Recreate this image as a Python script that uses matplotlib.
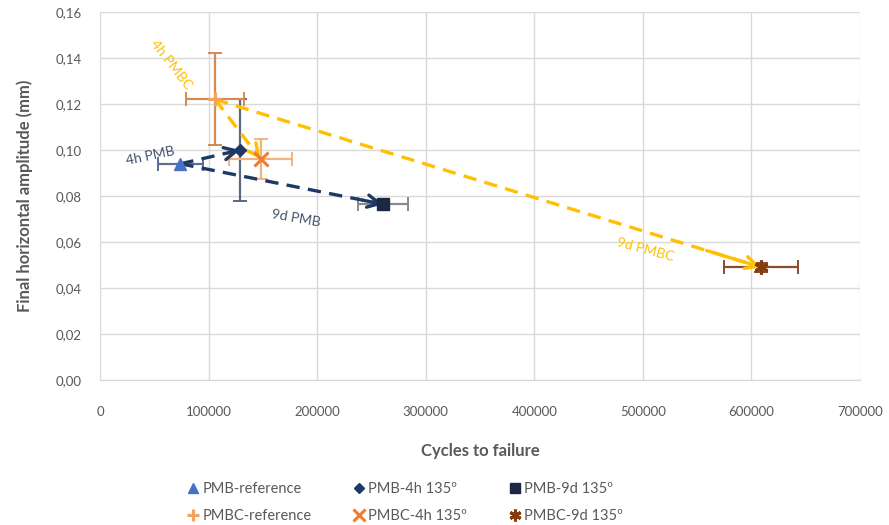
import numpy as np
import matplotlib
matplotlib.use("Agg")
import matplotlib.pyplot as plt
from matplotlib.lines import Line2D

plt.rcParams["font.family"] = ["Lato", "DejaVu Sans"]

# ── Data ──────────────────────────────────────────────────────────
labels   = ["PMB-reference", "PMB-4h 135º", "PMB-9d 135º",
            "PMBC-reference", "PMBC-4h 135º", "PMBC-9d 135º"]
cycles   = [74000, 129000, 261000, 106000, 148000, 609000]
ampl     = [0.094, 0.100, 0.0764, 0.122, 0.096, 0.049]
cyc_err  = [21000, 0, 23000, 27000, 29000, 34000]
amp_err  = [0.0, 0.022, 0.0, 0.020, 0.0087, 0.002]

markers  = ["^", "D", "s", "+", "x", (6, 2, 0)]
m_sizes  = [8, 6, 8, 10, 10, 10]
m_colors = ["#4472C4", "#1F3864", "#1C2743", "#F0A35E", "#ED7D31", "#843C0C"]
e_colors = ["#5A6E94", "#5A6A85", "#8A8A8A", "#D48A52", "#F2B27F", "#8B4A2A"]

# ageing arrows: (start index, end index, colour, text colour, text, text x, text y, rotation)
arrows = [
    (0, 1, "#1F3864", "#44546A", "4h PMB",  46000,  0.0972, 12),
    (0, 2, "#1F3864", "#44546A", "9d PMB",  181000, 0.0703, -10),
    (3, 4, "#FFC000", "#FFC000", "4h PMBC", 66000,  0.137, -52),
    (3, 5, "#FFC000", "#FFC000", "9d PMBC", 502000, 0.0568, -15),
]

fig = plt.figure(figsize=(8.89, 5.25), dpi=100)
ax = fig.add_axes([100/889, 1 - 380/525, 760/889, 368/525])

# error bars
for i in range(len(labels)):
    ax.errorbar(cycles[i], ampl[i],
                xerr=cyc_err[i] if cyc_err[i] else None,
                yerr=amp_err[i] if amp_err[i] else None,
                fmt="none", ecolor=e_colors[i], elinewidth=1.6,
                capsize=5, capthick=1.4, zorder=3)

# dashed arrows between reference and aged samples
for s, e, col, tcol, txt, tx, ty, rot in arrows:
    x0, y0 = cycles[s], ampl[s]
    x1, y1 = cycles[e], ampl[e]
    ax.plot([x0, x1], [y0, y1], color=col, lw=2.4,
            linestyle=(0, (4, 2.5)), zorder=4)
    xm = x0 + 0.9 * (x1 - x0)
    ym = y0 + 0.9 * (y1 - y0)
    ax.annotate("", xy=(x1, y1), xytext=(xm, ym),
                arrowprops=dict(arrowstyle="->", color=col, lw=2.4,
                                mutation_scale=22, shrinkA=0, shrinkB=0),
                zorder=5)
    ax.text(tx, ty, txt, color=tcol, fontsize=10, rotation=rot,
            ha="center", va="center", rotation_mode="anchor")

handles = []
for i in range(len(labels)):
    mew = 2.2 if markers[i] in ["+", "x"] or isinstance(markers[i], tuple) else 1
    ax.plot(cycles[i], ampl[i], linestyle="none", marker=markers[i],
            markersize=m_sizes[i], color=m_colors[i], mew=mew, zorder=6)
    handles.append(Line2D([], [], linestyle="none", marker=markers[i],
                          markersize=m_sizes[i] * 0.85, color=m_colors[i], mew=mew))

ax.set_xlim(0, 700000)
ax.set_ylim(0, 0.16)
ax.set_xticks(np.arange(0, 700001, 100000))
ax.set_yticks(np.arange(0, 0.1601, 0.02))
ax.set_yticklabels([f"{v:.2f}".replace(".", ",") for v in np.arange(0, 0.1601, 0.02)])
ax.tick_params(length=0, labelsize=9.5, labelcolor="#595959", pad=13)
ax.tick_params(axis="x", pad=19)
ax.grid(color="#D9D9D9", lw=1)
ax.set_axisbelow(True)
for sp in ["top", "right", "left"]:
    ax.spines[sp].set_visible(False)
ax.spines["bottom"].set_color("#D9D9D9")

ax.set_xlabel("Cycles to failure", fontsize=12, color="#595959",
              fontweight="bold", labelpad=18)
ax.set_ylabel("Final horizontal amplitude (mm)", fontsize=12, color="#595959",
              fontweight="bold", labelpad=16)

# legend fills column-wise: pair PMB / PMBC entries
order = [0, 3, 1, 4, 2, 5]
fig.legend([handles[i] for i in order], [labels[i] for i in order],
           loc="center", bbox_to_anchor=(0.455, 0.043), ncol=3, frameon=False,
           fontsize=10.5, labelcolor="#595959", handletextpad=0.1,
           handlelength=1.0, columnspacing=2.8, labelspacing=0.85)

fig.savefig("out.png", dpi=100)
